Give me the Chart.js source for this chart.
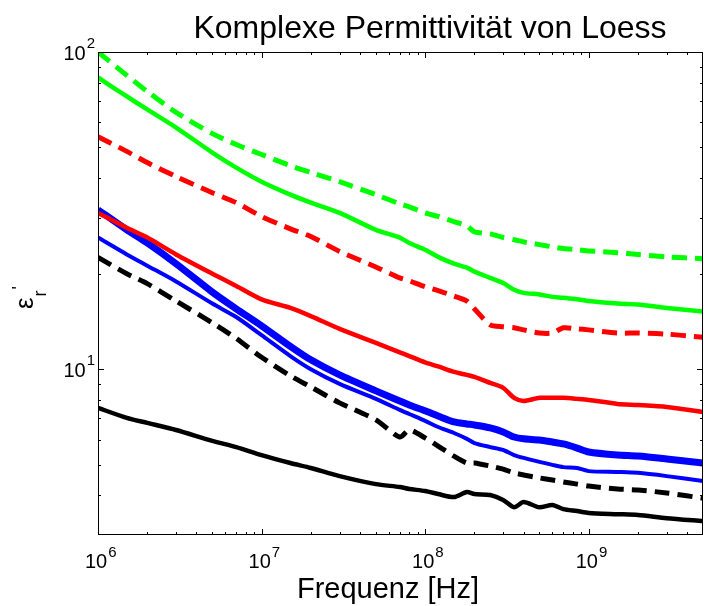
<!DOCTYPE html>
<html>
<head>
<meta charset="utf-8">
<script src="https://cdn.jsdelivr.net/npm/chart.js@4/dist/chart.umd.min.js"></script>
<style>
  html, body { margin: 0; padding: 0; background: #fff; }
  #wrap { width: 704px; height: 606px; }
</style>
</head>
<body>
<div id="wrap"><canvas id="chart" width="704" height="606"></canvas></div>
<script>
// frequency grid shared by all curves (Hz)
const freqHz = [1e6, 1.5e6, 2e6, 3e6, 5e6, 7e6, 1e7, 1.5e7, 2e7, 3e7, 5e7, 7e7, 8e7, 1e8, 1.2e8,
  1.5e8, 1.8e8, 2e8, 2.5e8, 3e8, 3.5e8, 4e8, 5e8, 6e8, 7e8, 8.5e8, 1e9, 1.5e9, 2e9, 3e9, 5e9];

// eps'_r
const greenDashed = [100, 84.4, 75.1, 64.5, 55.3, 51.1, 47.5, 43.8, 41.7, 39.0, 35.5, 33.2, 32.5, 31.1, 30.3,
  29.2, 28.3, 27.1, 26.7, 26.0, 25.6, 25.2, 24.7, 24.3, 24.0, 23.8, 23.6, 23.3, 23.0, 22.6, 22.3];
const greenSolid = [83.1, 72.4, 65.9, 57.8, 48.2, 43.2, 39.0, 35.5, 33.5, 31.1, 27.5, 26.0, 25.0, 23.8, 22.6,
  21.5, 20.9, 20.3, 19.4, 18.7, 17.8, 17.4, 17.2, 16.9, 16.8, 16.6, 16.4, 16.1, 16.0, 15.6, 15.2];
const redDashed = [54.1, 48.6, 44.8, 40.5, 36.0, 33.5, 30.3, 27.7, 26.2, 23.5, 21.0, 19.4, 19.0, 18.2, 17.7,
  17.0, 16.4, 15.5, 13.8, 13.6, 13.5, 13.3, 13.0, 13.0, 13.5, 13.4, 13.3, 13.0, 13.0, 12.9, 12.6];
const redSolid = [31.1, 27.9, 26.0, 23.0, 20.0, 18.3, 16.6, 15.6, 14.7, 13.4, 12.1, 11.3, 11.0, 10.5, 10.2,
  9.80, 9.59, 9.46, 9.05, 8.73, 8.12, 7.94, 8.12, 8.12, 8.12, 8.06, 8.00, 7.77, 7.71, 7.60, 7.33];
const blueThick = [31.8, 27.5, 25.0, 21.5, 17.5, 15.5, 13.7, 11.8, 10.7, 9.59, 8.54, 7.94, 7.71, 7.39, 7.12,
  6.82, 6.72, 6.67, 6.53, 6.34, 6.11, 6.03, 5.98, 5.89, 5.81, 5.64, 5.48, 5.36, 5.32, 5.21, 5.06];
const blueThin = [26.0, 23.0, 21.2, 18.9, 16.1, 14.6, 12.8, 11.0, 10.0, 8.99, 8.06, 7.44, 7.22, 6.87, 6.57,
  6.29, 6.03, 5.85, 5.68, 5.56, 5.36, 5.25, 5.10, 4.99, 4.91, 4.88, 4.77, 4.74, 4.71, 4.60, 4.44];
const blackDashed = [22.5, 20.0, 18.6, 16.4, 14.0, 12.5, 10.9, 9.53, 8.79, 7.83, 6.92, 6.11, 6.43, 6.07, 5.72,
  5.32, 5.06, 5.06, 4.95, 4.84, 4.71, 4.64, 4.54, 4.47, 4.41, 4.34, 4.28, 4.19, 4.16, 4.07, 3.92];
const blackSolid = [7.55, 7.02, 6.77, 6.43, 5.94, 5.68, 5.36, 5.06, 4.88, 4.60, 4.34, 4.25, 4.19, 4.13, 4.04,
  3.95, 4.10, 4.04, 4.01, 3.87, 3.67, 3.81, 3.67, 3.73, 3.62, 3.57, 3.52, 3.49, 3.47, 3.39, 3.32];

// axis ticks
const xMajorTicks = [1e6, 1e7, 1e8, 1e9];
const xTickExps = ['6', '7', '8', '9'];
const yMajorTicks = [10, 100];
const yTickExps = ['1', '2'];

const xMin = 1e6, xMax = 5e9;
const yMin = 3, yMax = 100;

const FONT = '"Liberation Sans", Arial, Helvetica, sans-serif';

function minorTicks(lo, hi) {
    const out = [];
    for (let d = Math.floor(Math.log10(lo)); d <= Math.ceil(Math.log10(hi)); d++) {
        for (let m = 2; m <= 9; m++) {
            const v = m * Math.pow(10, d);
            if (v > lo && v < hi) out.push(v);
        }
    }
    return out;
}

function series(label, values, color, width, dashed) {
    return {
        label,
        data: freqHz.map((f, i) => ({ x: f, y: values[i] })),
        borderColor: color,
        borderWidth: width,
        borderDash: dashed ? [15, 8] : [],
        borderCapStyle: 'butt',
        borderJoinStyle: 'round',
        pointRadius: 0,
        tension: 0.25,
        fill: false
    };
}

// first dataset is drawn on top
const datasets = [
    series('green dashed', greenDashed, '#00ff00', 5, true),
    series('green', greenSolid, '#00ff00', 4.5, false),
    series('red dashed', redDashed, '#ff0000', 5, true),
    series('red', redSolid, '#ff0000', 4.5, false),
    series('blue thin', blueThin, '#0000ff', 4, false),
    series('blue thick', blueThick, '#0000ff', 7, false),
    series('black dashed', blackDashed, '#000000', 5, true),
    series('black', blackSolid, '#000000', 4.5, false)
];

function drawPow(ctx, exp, x, baseY, supY, align) {
    ctx.font = `20px ${FONT}`;
    const w10 = ctx.measureText('10').width;
    ctx.font = `15px ${FONT}`;
    const wSup = ctx.measureText(exp).width;
    let left;
    if (align === 'right') left = x - wSup - 1 - w10;
    else left = x;
    ctx.textAlign = 'left';
    ctx.textBaseline = 'alphabetic';
    ctx.font = `20px ${FONT}`;
    ctx.fillText('10', left, baseY);
    ctx.font = `15px ${FONT}`;
    ctx.fillText(exp, left + w10 + 1, supY);
}

const matlabAxes = {
    id: 'matlabAxes',
    afterDatasetsDraw(chart) {
        const { ctx, chartArea: a, scales: { x, y } } = chart;
        ctx.save();
        ctx.strokeStyle = '#000';
        ctx.fillStyle = '#000';
        ctx.lineWidth = 1;

        // box
        ctx.strokeRect(a.left + 0.5, a.top + 0.5, a.right - a.left - 1, a.bottom - a.top - 1);

        // x ticks, inward on bottom and top
        const tickX = (v, len) => {
            const px = Math.round(x.getPixelForValue(v)) + 0.5;
            ctx.beginPath();
            ctx.moveTo(px, a.bottom); ctx.lineTo(px, a.bottom - len);
            ctx.moveTo(px, a.top); ctx.lineTo(px, a.top + len);
            ctx.stroke();
        };
        xMajorTicks.forEach(v => tickX(v, 6));
        minorTicks(xMin, xMax).forEach(v => tickX(v, 3));

        // y ticks, inward on left and right
        const tickY = (v, len) => {
            const py = Math.round(y.getPixelForValue(v)) + 0.5;
            ctx.beginPath();
            ctx.moveTo(a.left, py); ctx.lineTo(a.left + len, py);
            ctx.moveTo(a.right, py); ctx.lineTo(a.right - len, py);
            ctx.stroke();
        };
        yMajorTicks.forEach(v => tickY(v, 6));
        minorTicks(yMin, yMax).forEach(v => tickY(v, 3));

        // tick labels
        xMajorTicks.forEach((v, i) => {
            const px = x.getPixelForValue(v);
            drawPow(ctx, xTickExps[i], px - 13, 568, 557, 'left');
        });
        yMajorTicks.forEach((v, i) => {
            const py = y.getPixelForValue(v);
            drawPow(ctx, yTickExps[i], a.left - 3, py + 7.5, py - 4, 'right');
        });

        // title and x label
        ctx.textAlign = 'center';
        ctx.textBaseline = 'alphabetic';
        ctx.font = `32px ${FONT}`;
        ctx.fillText('Komplexe Permittivität von Loess', 430, 38);
        ctx.font = `29px ${FONT}`;
        ctx.fillText('Frequenz [Hz]', 388, 598);

        // y label: eps'_r, rotated
        ctx.translate(33, 309);
        ctx.rotate(-Math.PI / 2);
        ctx.textAlign = 'left';
        ctx.font = `26px ${FONT}`;
        ctx.fillText('ε', 0, 0);
        const wE = ctx.measureText('ε').width;
        ctx.font = `18px ${FONT}`;
        ctx.fillText('r', wE + 1, 13);
        ctx.fillText("'", wE + 8, -8);
        ctx.restore();
    }
};

new Chart(document.getElementById('chart').getContext('2d'), {
    type: 'line',
    data: { datasets },
    options: {
        responsive: false,
        devicePixelRatio: 1,
        animation: false,
        layout: { padding: { left: 98, right: 1, top: 52, bottom: 71 } },
        scales: {
            x: { type: 'logarithmic', min: xMin, max: xMax, display: false },
            y: { type: 'logarithmic', min: yMin, max: yMax, display: false }
        },
        plugins: {
            legend: { display: false },
            title: { display: false },
            tooltip: { enabled: false }
        }
    },
    plugins: [matlabAxes]
});
</script>
</body>
</html>
